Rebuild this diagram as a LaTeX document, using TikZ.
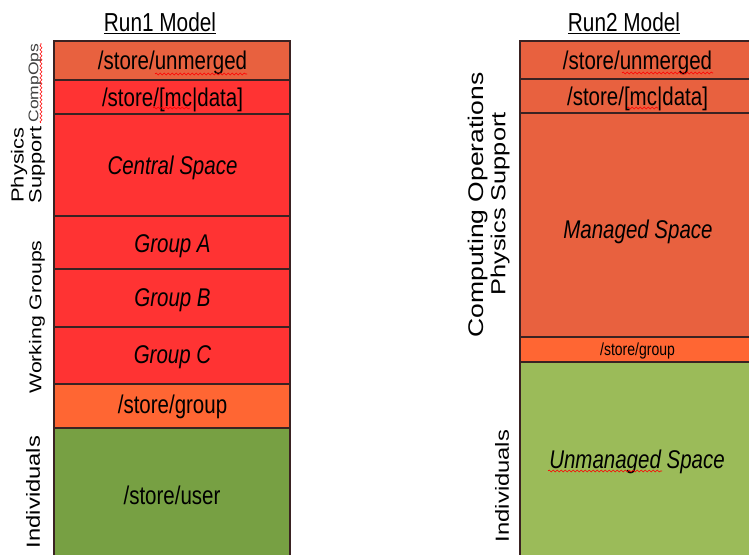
\documentclass[tikz,border=0pt]{standalone}
\usepackage{fontspec}
\setmainfont{Liberation Sans}
\usepackage{graphicx}
\usetikzlibrary{decorations.pathmorphing}
\definecolor{cA}{HTML}{E8613F}
\definecolor{cR}{HTML}{FF3333}
\definecolor{cO}{HTML}{FF6633}
\definecolor{cGa}{HTML}{77A043}
\definecolor{cGb}{HTML}{9BBB59}
\definecolor{edge}{HTML}{3A2222}
\newcommand\htxt[2]{\scalebox{1}[1.25]{\fontsize{#1}{#1}\selectfont #2}}
\newcommand\vtxt[2]{\scalebox{1.25}[1]{\fontsize{#1}{#1}\selectfont #2}}
\begin{document}
\begin{tikzpicture}[x=1pt,y=-1pt,
  box/.style={draw=edge,line width=1.1pt,inner sep=0pt,anchor=center},
  txt/.style={inner sep=0pt,anchor=center},
  lbl/.style={inner sep=0pt,anchor=center,rotate=90},
  wave/.style={draw=red,line width=0.6pt,decorate,decoration={snake,segment length=4pt,amplitude=1pt}}]
\useasboundingbox (0,0) rectangle (749,554);
% titles
\node[txt] (t1) at (160,23) {\htxt{20.8}{\underline{Run1 Model}}};
\node[txt] (t2) at (624,23) {\htxt{20.8}{\underline{Run2 Model}}};
% left column boxes
\node[box,fill=cA,minimum width=236pt,minimum height=39pt] (L1) at (172,60.5) {};
\node[box,fill=cR,minimum width=236pt,minimum height=34pt] (L2) at (172,97) {};
\node[box,fill=cR,minimum width=236pt,minimum height=102pt] (L3) at (172,165) {};
\node[box,fill=cR,minimum width=236pt,minimum height=53pt] (L4) at (172,242.5) {};
\node[box,fill=cR,minimum width=236pt,minimum height=58pt] (L5) at (172,298) {};
\node[box,fill=cR,minimum width=236pt,minimum height=57pt] (L6) at (172,355.5) {};
\node[box,fill=cO,minimum width=236pt,minimum height=44pt] (L7) at (172,406) {};
\node[box,fill=cGa,minimum width=236pt,minimum height=130pt] (L8) at (172,493) {};
% left column texts
\node[txt] (l1t) at (172.5,63) {\htxt{20.5}{/store/unmerged}};
\node[txt] (l2t) at (172.5,99.5) {\htxt{20.5}{/store/[mc|data]}};
\node[txt] (l3t) at (172.5,168) {\htxt{20.5}{\itshape Central Space}};
\node[txt] (l4t) at (172.5,246) {\htxt{20.5}{\itshape Group A}};
\node[txt] (l5t) at (172.5,300.5) {\htxt{20.5}{\itshape Group B}};
\node[txt] (l6t) at (172.5,357.5) {\htxt{20.5}{\itshape Group C}};
\node[txt] (l7t) at (172.5,407) {\htxt{20.5}{/store/group}};
\node[txt] (l8t) at (172,495.5) {\htxt{20.5}{/store/user}};
% right column boxes
\node[box,fill=cA,minimum width=235pt,minimum height=38pt] (R1) at (637.5,60) {};
\node[box,fill=cA,minimum width=235pt,minimum height=34pt] (R2) at (637.5,96) {};
\node[box,fill=cA,minimum width=235pt,minimum height=224pt] (R3) at (637.5,225) {};
\node[box,fill=cO,minimum width=235pt,minimum height=25pt] (R4) at (637.5,349.5) {};
\node[box,fill=cGb,minimum width=235pt,minimum height=197pt] (R5) at (637.5,460.5) {};
% right column texts
\node[txt] (r1t) at (637.5,62.5) {\htxt{20.5}{/store/unmerged}};
\node[txt] (r2t) at (637.5,98.5) {\htxt{20.5}{/store/[mc|data]}};
\node[txt] (r3t) at (638,232) {\htxt{20.5}{\itshape Managed Space}};
\node[txt] (r4t) at (637.5,351) {\htxt{14}{/store/group}};
\node[txt] (r5t) at (637,461.5) {\htxt{20.5}{\itshape Unmanaged Space}};
% left labels
\node[lbl] (pl1) at (19,165) {\vtxt{17.5}{Physics}};
\node[lbl] (pl2) at (37,165) {\vtxt{17.5}{Support}};
\node[lbl,text=black!75] (co) at (35,83) {\vtxt{14}{CompOps}};
\node[lbl] (wg) at (37,317) {\vtxt{17}{Working Groups}};
\node[lbl] (in1) at (33,492) {\vtxt{19}{Individuals}};
% right labels
\node[lbl] (cop) at (478,205) {\vtxt{21.2}{Computing Operations}};
\node[lbl] (ps) at (500,204) {\vtxt{20.3}{Physics Support}};
\node[lbl] (in2) at (502,486) {\vtxt{19}{Individuals}};
% spell-check squiggles
\coordinate (w1a) at (155,74); \coordinate (w1b) at (247,74);
\coordinate (w2a) at (153,108); \coordinate (w2b) at (190,108);
\coordinate (w3a) at (622,73); \coordinate (w3b) at (713,73);
\coordinate (w4a) at (627,108); \coordinate (w4b) at (658,108);
\coordinate (w5a) at (41,123); \coordinate (w5b) at (41,43);
\coordinate (w6a) at (548,471); \coordinate (w6b) at (662,471);
\draw[wave] (w1a) -- (w1b);
\draw[wave] (w2a) -- (w2b);
\draw[wave] (w3a) -- (w3b);
\draw[wave] (w4a) -- (w4b);
\draw[wave] (w5a) -- (w5b);
\draw[wave] (w6a) -- (w6b);
\end{tikzpicture}
\end{document}
